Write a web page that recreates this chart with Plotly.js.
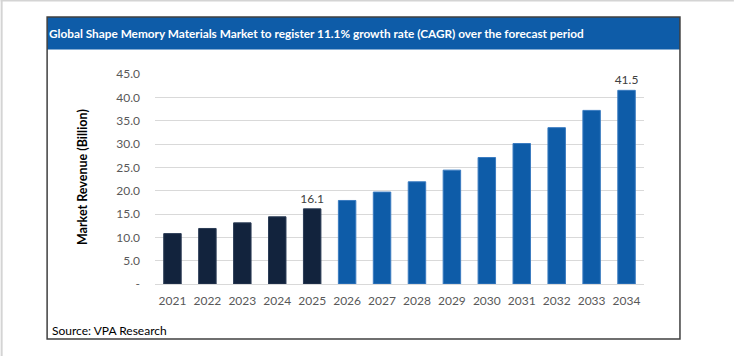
<!DOCTYPE html>
<html><head><meta charset="utf-8">
<script src="https://cdn.plot.ly/plotly-3.0.1.min.js"></script>
<style>html,body{margin:0;padding:0;background:#fff;}#chart{width:734px;height:356px;}</style>
</head><body><div id="chart"></div>
<script>
const years = ['2021','2022','2023','2024','2025','2026','2027','2028','2029','2030','2031','2032','2033','2034'];
const revenue = [10.8, 11.9, 13.1, 14.4, 16.1, 17.9, 19.7, 21.9, 24.4, 27.1, 30.1, 33.5, 37.2, 41.5];
const labelYears = ['2025','2034'];
const yTickVals = [0, 5, 10, 15, 20, 25, 30, 35, 40, 45];
const yTickText = ['-', '5.0', '10.0', '15.0', '20.0', '25.0', '30.0', '35.0', '40.0', '45.0'];
const historicColor = '#12233D';
const forecastColor = '#0E5CA8';

const W = 734, H = 356;
const L = 154.5, R = 644, T = 74, B = 284;
const px = x => (x - L) / (R - L);
const py = y => (B - y) / (B - T);

const colors = years.map(y => (+y <= 2025 ? historicColor : forecastColor));
const lineColors = years.map(y => (+y <= 2025 ? '#2A3B55' : '#3A7BC0'));
const texts = years.map((y, i) => labelYears.includes(y) ? revenue[i].toFixed(1) : '');

const trace = {
  type: 'bar', x: years, y: revenue, text: texts, textposition: 'outside',
  constraintext: 'none',
  textfont: {family: 'Lato, sans-serif', size: 12, color: '#404040'},
  cliponaxis: false,
  marker: {color: colors, line: {color: lineColors, width: 1}},
  hoverinfo: 'skip'
};

const layout = {
  width: W, height: H,
  margin: {l: L, r: W - R, t: T, b: H - B, pad: 0},
  paper_bgcolor: '#fff', plot_bgcolor: '#fff',
  bargap: 0.5, showlegend: false,
  font: {family: 'Lato, sans-serif', color: '#595959', size: 12},
  xaxis: {type: 'category', showgrid: false, showline: true, linecolor: '#D9D9D9', linewidth: 1,
    ticks: '', tickfont: {size: 12, color: '#595959'}, ticklabelstandoff: 6, fixedrange: true},
  yaxis: {range: [0, 45], tickvals: yTickVals, ticktext: yTickText, showgrid: true, gridcolor: '#D9D9D9',
    gridwidth: 1, zeroline: false, showline: false, ticks: '', ticklabelstandoff: 14,
    tickfont: {size: 12, color: '#595959'}, fixedrange: true},
  title: {text: '<b>Global Shape Memory Materials Market to register 11.1% growth rate (CAGR) over the forecast period</b>',
    xref: 'container', yref: 'container', x: 49 / W, y: 1 - 33.5 / H, xanchor: 'left', yanchor: 'middle',
    font: {family: 'Lato, sans-serif', size: 11.8, color: '#fff'}},
  shapes: [
    {type: 'rect', xref: 'paper', yref: 'paper', x0: px(0), x1: px(734), y0: py(0), y1: py(1.5), fillcolor: '#D4D4D4', line: {width: 0}, layer: 'below'},
    {type: 'rect', xref: 'paper', yref: 'paper', x0: px(0), x1: px(2), y0: py(0), y1: py(356), fillcolor: '#D4D4D4', line: {width: 0}, layer: 'below'},
    {type: 'rect', xref: 'paper', yref: 'paper', x0: px(46.5), x1: px(680), y0: py(17), y1: py(49.5), fillcolor: '#0E5CA8', line: {width: 0}, layer: 'below'},
    {type: 'rect', xref: 'paper', yref: 'paper', x0: px(46.5), x1: px(680), y0: py(17), y1: py(339), fillcolor: 'rgba(0,0,0,0)', line: {color: '#404040', width: 1.5}, layer: 'below'}
  ],
  annotations: [
    {text: '<b>Market Revenue (Billion)</b>', xref: 'paper', yref: 'paper', x: px(82), y: py(177.5), xanchor: 'center', yanchor: 'middle',
      textangle: -90, showarrow: false, font: {family: 'Lato, sans-serif', size: 12.5, color: '#000', weight: 900}},
    {text: 'Source: VPA Research', xref: 'paper', yref: 'paper', x: px(49), y: py(330), xanchor: 'left', yanchor: 'middle',
      showarrow: false, font: {family: 'Lato, sans-serif', size: 12, color: '#000'}}
  ]
};
Plotly.newPlot('chart', [trace], layout, {staticPlot: true, displayModeBar: false});
</script></body></html>
